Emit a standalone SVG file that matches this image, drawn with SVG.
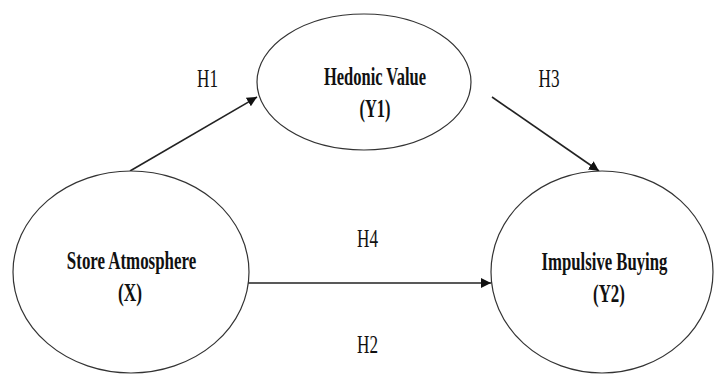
<svg xmlns="http://www.w3.org/2000/svg" width="714" height="374" viewBox="0 0 714 374">
<style>
.node ellipse{fill:#fff;stroke:#333;stroke-width:1.2}
.lbl{font-family:"Liberation Serif","Times New Roman",serif;font-weight:bold;font-size:26px;fill:#111;text-anchor:middle}
.h{font-family:"Liberation Serif","Times New Roman",serif;font-size:25px;fill:#111;text-anchor:middle}
.conn line{stroke:#222;stroke-width:1.6;marker-end:url(#arr)}
</style>
<defs>
<marker id="arr" markerUnits="userSpaceOnUse" markerWidth="11" markerHeight="11" refX="10" refY="5" orient="auto">
<path d="M0,0 L10,5 L0,10 z" fill="#111"/>
</marker>
</defs>
<rect width="714" height="374" fill="#fff"/>
<g id="connectors" class="conn">
<line x1="130" y1="171" x2="257" y2="97"/>
<line x1="492" y1="97" x2="599" y2="171"/>
<line x1="248" y1="283" x2="491" y2="283"/>
</g>
<g id="store-atmosphere" class="node">
<ellipse cx="131" cy="272" rx="118" ry="101"/>
<text class="lbl" transform="translate(131.5,269) scale(0.65,1)">Store Atmosphere</text>
<text class="lbl" transform="translate(130,301) scale(0.665,1)">(X)</text>
</g>
<g id="hedonic-value" class="node">
<ellipse cx="364" cy="82" rx="107" ry="68"/>
<text class="lbl" transform="translate(375,85) scale(0.634,1)">Hedonic Value</text>
<text class="lbl" transform="translate(375,117) scale(0.63,1)">(Y1)</text>
</g>
<g id="impulsive-buying" class="node">
<ellipse cx="602" cy="272" rx="111" ry="101"/>
<text class="lbl" transform="translate(604.5,270) scale(0.643,1)">Impulsive Buying</text>
<text class="lbl" transform="translate(609,302) scale(0.65,1)">(Y2)</text>
</g>
<g id="labels">
<text class="h" transform="translate(207.5,87) scale(0.687,1)">H1</text>
<text class="h" transform="translate(549,87) scale(0.687,1)">H3</text>
<text class="h" transform="translate(367.5,247) scale(0.687,1)">H4</text>
<text class="h" transform="translate(367.5,353) scale(0.687,1)">H2</text>
</g>
</svg>
